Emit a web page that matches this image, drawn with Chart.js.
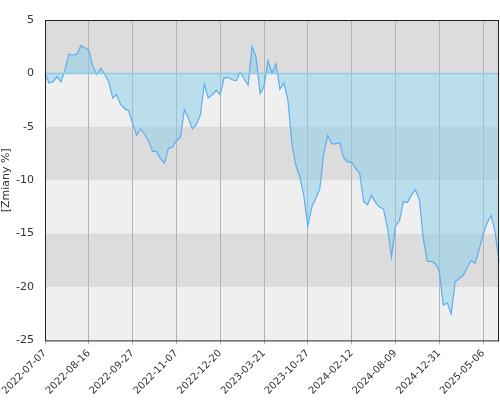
<!DOCTYPE html>
<html><head><meta charset="utf-8">
<script src="https://cdn.jsdelivr.net/npm/chart.js@4"></script>
<style>html,body{margin:0;padding:0;background:#fff}#w{width:500px;height:400px}</style>
</head><body><div id="w"><canvas id="c"></canvas></div>
<script>
const tickLabels=['2022-07-07','2022-08-16','2022-09-27','2022-11-07','2022-12-20','2023-03-21','2023-10-27','2024-02-12','2024-08-09','2024-12-31','2025-05-06'];
const values=[0,-0.9,-0.8,-0.3,-0.8,0.3,1.8,1.7,1.8,2.6,2.4,2.2,0.7,-0.1,0.5,-0.1,-0.8,-2.3,-2.0,-2.9,-3.3,-3.5,-4.7,-5.8,-5.2,-5.7,-6.3,-7.3,-7.3,-8.0,-8.4,-7.0,-6.9,-6.3,-6.0,-3.4,-4.2,-5.2,-4.8,-3.9,-1.0,-2.3,-2.0,-1.6,-2.0,-0.4,-0.4,-0.6,-0.7,0.1,-0.5,-1.1,2.5,1.5,-1.9,-1.2,1.2,0.0,0.9,-1.5,-0.9,-2.5,-6.6,-8.6,-9.7,-11.5,-14.3,-12.5,-11.7,-10.8,-7.5,-5.8,-6.6,-6.6,-6.5,-7.9,-8.3,-8.3,-8.9,-9.3,-12.0,-12.3,-11.4,-12.1,-12.5,-12.7,-14.5,-17.2,-14.3,-13.8,-12.0,-12.1,-11.4,-10.9,-11.8,-15.5,-17.6,-17.6,-17.8,-18.5,-21.7,-21.5,-22.5,-19.5,-19.2,-18.9,-18.2,-17.5,-17.8,-16.5,-15.1,-14.0,-13.3,-14.8,-17.7];
const labels=values.map((v,i)=>i%11===0&&tickLabels[i/11]?tickLabels[i/11]:'');
const bands={id:'bands',beforeDraw(ch){const{ctx,chartArea:a,scales:{y}}=ch;ctx.save();
for(let v=5;v>-25;v-=5){const t=y.getPixelForValue(v),b=y.getPixelForValue(v-5);ctx.fillStyle=((5-v)/5)%2===0?'#dcdcdc':'#efefef';ctx.fillRect(a.left,t,a.right-a.left,b-t);}ctx.restore();},
afterDatasetsDraw(ch){const{ctx,chartArea:a,scales:{y}}=ch;ctx.save();const z=y.getPixelForValue(0);ctx.strokeStyle='#8ccbe8';ctx.lineWidth=1.5;ctx.beginPath();ctx.moveTo(a.left,z);ctx.lineTo(a.right,z);ctx.stroke();
ctx.strokeStyle='#222';ctx.lineWidth=1;ctx.strokeRect(a.left+0.5,a.top+0.5,a.right-a.left-1,a.bottom-a.top);ctx.restore();}};
new Chart(document.getElementById('c'),{type:'line',data:{labels,datasets:[{data:values,borderColor:'#5eaef0',borderWidth:1.2,pointRadius:0,tension:0,fill:{target:'origin'},backgroundColor:'rgba(135,206,235,0.5)'}]},
options:{responsive:true,maintainAspectRatio:false,animation:false,layout:{padding:{top:20,right:1,left:0,bottom:0}},
plugins:{legend:{display:false},tooltip:{enabled:false}},
scales:{x:{offset:false,afterFit(s){s.paddingRight=0;s.paddingLeft=0;},grid:{color:c=>labels[c.index]?'#b4b4b4':'rgba(0,0,0,0)',drawTicks:true,tickLength:4,drawOnChartArea:true},border:{display:false},
ticks:{autoSkip:false,maxRotation:45,minRotation:45,color:'#333',font:{size:10,family:'DejaVu Sans'},callback(v,i){return labels[i];}}},
y:{min:-25,max:5,afterFit(s){s.width=45;},grid:{display:false},border:{display:false},ticks:{stepSize:5,color:'#333',font:{size:11,family:'DejaVu Sans'}},
title:{display:true,text:'[Zmiany %]',color:'#333',font:{size:11,family:'DejaVu Sans'},padding:0}}}},plugins:[bands]});
</script></body></html>
